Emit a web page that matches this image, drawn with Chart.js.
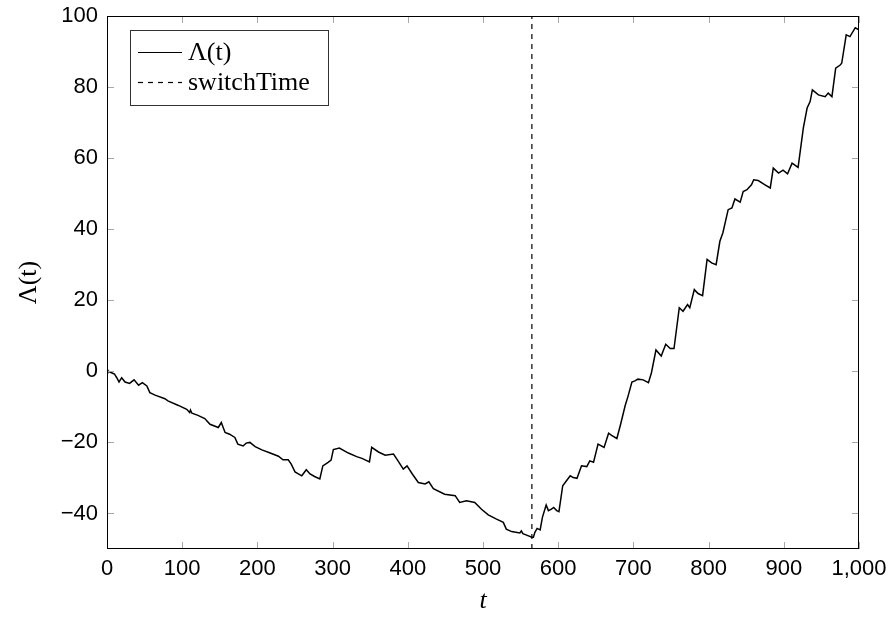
<!DOCTYPE html>
<html>
<head>
<meta charset="utf-8">
<script src="https://cdn.jsdelivr.net/npm/chart.js@4.4.1/dist/chart.umd.min.js"></script>
<style>
  html, body { margin: 0; padding: 0; background: #fff; }
</style>
</head>
<body>
<canvas id="lambdaChart" width="892" height="617"></canvas>
<script>
// values
const tValues = [
  0, 1, 6, 10, 13, 16, 19.5, 24, 30, 36, 42, 47, 53, 57, 64, 77, 81, 95, 106, 110,
  111, 113, 121, 130, 137, 148, 152, 157, 163, 170, 174, 181, 185, 190, 197, 206, 217, 228, 234, 241,
  245, 250, 259, 265, 270, 276, 283, 287, 294, 298, 301, 309, 321, 332, 339, 349, 352, 361, 370, 381,
  387, 394, 399, 406, 414, 423, 428, 434, 449, 463, 469, 478, 489, 498, 507, 518, 527, 531, 538, 549,
  551, 553, 558, 565, 567, 569, 572, 576, 579, 584, 587, 591, 594, 598, 601, 606, 611, 616, 620, 625,
  631, 638, 642, 647, 653, 661, 667, 671, 678, 683, 689, 693, 698, 702, 706, 713, 720, 724, 730, 737,
  743, 749, 754, 761, 766, 772, 775, 781, 786, 792, 798, 804, 810, 815, 819, 826, 831, 835, 842, 846,
  851, 857, 860, 866, 875, 882, 886, 893, 899, 905, 911, 919, 926, 931, 935, 938, 946, 955, 959, 964,
  969, 975, 977, 983, 988, 995, 1000
];
const lambdaValues = [
  0.5, 0.1, -0.4, -0.8, -1.8, -3.0, -1.8, -3.0, -3.4, -2.4, -3.9, -3.2, -4.1, -6.0, -6.7, -7.7, -8.3, -9.6, -10.7, -11.6,
  -10.9, -11.8, -12.4, -13.3, -14.9, -15.8, -14.4, -17.2, -17.7, -18.6, -20.5, -21.0, -20.2, -20.0, -21.2, -22.1, -23.0, -23.9, -24.9, -24.9,
  -26.1, -28.3, -29.4, -27.7, -28.9, -29.6, -30.3, -26.6, -25.6, -25.0, -22.0, -21.6, -23.0, -24.0, -24.5, -25.5, -21.4, -22.7, -23.6, -23.3,
  -25.2, -27.5, -26.6, -28.9, -31.3, -31.7, -31.1, -33.0, -34.6, -35.0, -36.9, -36.4, -36.9, -38.8, -40.4, -41.6, -42.5, -44.4, -45.1, -45.5,
  -44.9, -45.7, -46.1, -46.7, -46.7, -45.3, -44.2, -44.6, -41.1, -37.6, -39.2, -38.8, -38.3, -39.2, -39.5, -32.2, -30.8, -29.4, -29.9, -30.1,
  -26.6, -26.8, -25.2, -25.6, -20.5, -21.4, -17.4, -18.0, -18.9, -14.9, -9.7, -6.9, -3.0, -2.7, -2.2, -2.4, -3.2, -0.4, 6.0, 4.3,
  7.6, 6.4, 6.4, 17.9, 16.9, 18.8, 17.9, 23.0, 21.9, 21.3, 31.5, 30.5, 30.0, 36.6, 39.0, 45.5, 46.0, 48.5, 47.6, 50.6,
  51.1, 52.5, 53.9, 53.7, 52.5, 51.6, 57.2, 55.8, 56.6, 55.6, 58.6, 57.4, 68.5, 74.1, 75.9, 79.2, 77.8, 77.3, 78.3, 77.3,
  85.3, 86.2, 86.7, 94.7, 94.2, 96.7, 96.1
];
const switchTime = 565;
const xTicks = [0, 100, 200, 300, 400, 500, 600, 700, 800, 900, 1000];
const yTicks = [-40, -20, 0, 20, 40, 60, 80, 100];

const tickFont = { family: '"Liberation Sans", Arial, sans-serif', size: 22, lineHeight: 1 };
const serif = '"Liberation Serif", "Times New Roman", serif';

// pgfplots look: black frame, grey ticks pointing inwards, boxed legend top left
const frameAndLegend = {
  id: 'frameAndLegend',
  afterDraw(chart) {
    const { ctx, chartArea: a, scales } = chart;
    ctx.save();
    ctx.strokeStyle = '#a8a8a8';
    ctx.lineWidth = 1;
    ctx.beginPath();
    scales.x.ticks.forEach(tk => {
      const px = Math.round(scales.x.getPixelForValue(tk.value)) + 0.5;
      ctx.moveTo(px, a.bottom); ctx.lineTo(px, a.bottom - 7);
      ctx.moveTo(px, a.top); ctx.lineTo(px, a.top + 7);
    });
    scales.y.ticks.forEach(tk => {
      const py = Math.round(scales.y.getPixelForValue(tk.value)) + 0.5;
      ctx.moveTo(a.left, py); ctx.lineTo(a.left + 7, py);
      ctx.moveTo(a.right, py); ctx.lineTo(a.right - 7, py);
    });
    ctx.stroke();

    ctx.strokeStyle = '#000';
    ctx.strokeRect(Math.round(a.left) + 0.5, Math.round(a.top) + 0.5,
      Math.round(a.width) - 1, Math.round(a.height) - 1);

    // legend
    const lx = a.left + 23, ly = a.top + 14, lw = 198, lh = 75;
    ctx.fillStyle = '#fff';
    ctx.fillRect(lx, ly, lw, lh);
    ctx.strokeStyle = '#333';
    ctx.strokeRect(lx + 0.5, ly + 0.5, lw, lh);
    ctx.font = '26px ' + serif;
    ctx.textBaseline = 'middle';
    chart.data.datasets.forEach((ds, i) => {
      const y = Math.round(ly + 22 + i * 30) + 0.5;
      ctx.strokeStyle = ds.borderColor;
      ctx.lineWidth = 1.2;
      ctx.setLineDash(ds.borderDash || []);
      ctx.beginPath();
      ctx.moveTo(lx + 8, y); ctx.lineTo(lx + 52, y);
      ctx.stroke();
      ctx.setLineDash([]);
      ctx.fillStyle = '#000';
      ctx.fillText(ds.label, lx + 58, y + 1);
    });
    ctx.restore();
  }
};

new Chart(document.getElementById('lambdaChart'), {
  type: 'line',
  data: {
    datasets: [{
      label: 'Λ(t)',
      data: tValues.map((t, i) => ({ x: t, y: lambdaValues[i] })),
      borderColor: '#000',
      borderWidth: 1.5,
      pointRadius: 0,
      tension: 0
    }, {
      label: 'switchTime',
      data: [{ x: switchTime, y: -50 }, { x: switchTime, y: 100 }],
      borderColor: '#000',
      borderWidth: 1.2,
      borderDash: [5, 5],
      pointRadius: 0
    }]
  },
  options: {
    responsive: false,
    animation: false,
    layout: { padding: { top: 16, right: 33, left: 0, bottom: 0 } },
    plugins: { legend: { display: false }, tooltip: { enabled: false } },
    scales: {
      x: {
        type: 'linear',
        min: 0, max: 1000,
        afterBuildTicks: s => { s.ticks = xTicks.map(v => ({ value: v })); },
        afterFit: s => { s.height = 68; },
        grid: { display: false },
        border: { display: false },
        ticks: {
          color: '#000', font: tickFont, padding: 1, maxRotation: 0,
          callback: v => v.toLocaleString('en-US')
        },
        title: { display: true, text: 't', color: '#000',
          font: { family: serif, size: 26, style: 'italic' }, padding: { top: 0, bottom: 0 } }
      },
      y: {
        type: 'linear',
        min: -50, max: 100,
        afterBuildTicks: s => { s.ticks = yTicks.map(v => ({ value: v })); },
        afterFit: s => { s.width = 107; },
        grid: { display: false },
        border: { display: false },
        ticks: {
          color: '#000', font: tickFont, padding: 1,
          callback: v => String(v).replace('-', '\u2212')
        },
        title: { display: true, text: 'Λ(t)', color: '#000',
          font: { family: serif, size: 26 }, padding: { top: 14, bottom: 0 } }
      }
    }
  },
  plugins: [frameAndLegend]
});
</script>
</body>
</html>
